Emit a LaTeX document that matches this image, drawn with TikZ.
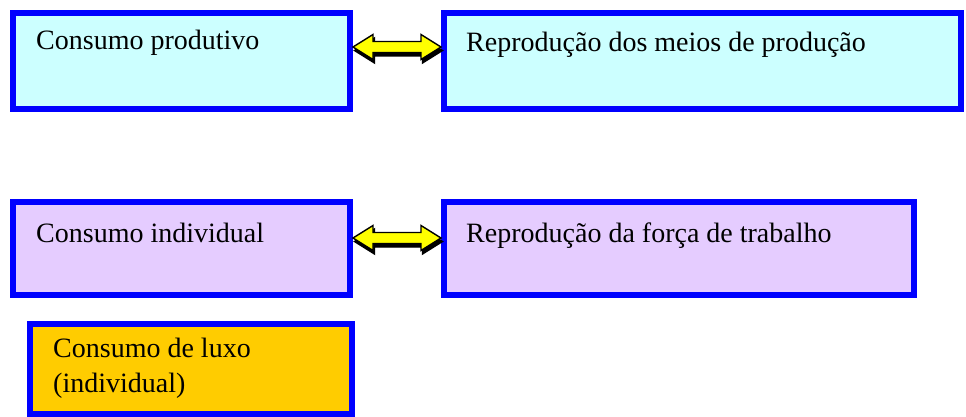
\documentclass[tikz,border=0pt]{standalone}
\usepackage{fontspec}
\setmainfont{Liberation Serif}
\usetikzlibrary{calc}
\definecolor{cyanfill}{HTML}{CCFFFF}
\definecolor{lilacfill}{HTML}{E5CCFF}
\definecolor{goldfill}{HTML}{FFCC00}
\definecolor{boxblue}{HTML}{0000FF}
\definecolor{arrowyellow}{HTML}{FFFF00}
\newcommand\arrowpoly[2]{(#1) -- ($(#1)+(20,-12.5)$) -- ($(#1)+(20,-5.5)$) -- ($(#2)+(-20,-5.5)$) -- ($(#2)+(-20,-12.5)$) -- (#2) -- ($(#2)+(-20,12.5)$) -- ($(#2)+(-20,5.5)$) -- ($(#1)+(20,5.5)$) -- ($(#1)+(20,12.5)$) -- cycle}
\tikzset{
  box/.style={draw=boxblue, line width=6pt, rectangle, inner sep=0pt},
  lbl/.style={anchor=base west, inner sep=0pt, font=\fontsize{28}{35}\selectfont},
  shadowarrow/.style={fill=black, draw=black, line width=1.4pt, transform canvas={shift={(1.5pt,-3.5pt)}}},
  yarrow/.style={fill=arrowyellow, draw=black, line width=1.4pt, line join=miter}
}
\begin{document}
\begin{tikzpicture}[x=1pt, y=-1pt]
\useasboundingbox[fill=white] (0,0) rectangle (966,417);
% boxes
\node[box, fill=cyanfill, minimum width=337pt, minimum height=96pt] (b1) at (181.5,61) {};
\node[box, fill=cyanfill, minimum width=517pt, minimum height=96pt] (b2) at (702.5,61) {};
\node[box, fill=lilacfill, minimum width=337pt, minimum height=93pt] (b3) at (181.5,248.5) {};
\node[box, fill=lilacfill, minimum width=470pt, minimum height=93pt] (b4) at (679,248.5) {};
\node[box, fill=goldfill, minimum width=322pt, minimum height=90pt] (b5) at (191,369) {};
% labels
\node[lbl] (t1) at (36,50) {Consumo produtivo};
\node[lbl] (t2) at (466,52) {Reprodução dos meios de produção};
\node[lbl] (t3) at (36,242) {Consumo individual};
\node[lbl] (t4) at (466,242) {Reprodução da força de trabalho};
\node[lbl] (t5) at (53,357) {Consumo de luxo};
\node[lbl] (t6) at (53,392) {(individual)};
% arrows
\coordinate (a1l) at (b1.east |- 0,47);
\coordinate (a1r) at (b2.west |- 0,47);
\coordinate (a2l) at (b3.east |- 0,238);
\coordinate (a2r) at (b4.west |- 0,238);
\path[shadowarrow] \arrowpoly{a1l}{a1r};
\path[yarrow] \arrowpoly{a1l}{a1r};
\path[shadowarrow] \arrowpoly{a2l}{a2r};
\path[yarrow] \arrowpoly{a2l}{a2r};
\end{tikzpicture}
\end{document}
